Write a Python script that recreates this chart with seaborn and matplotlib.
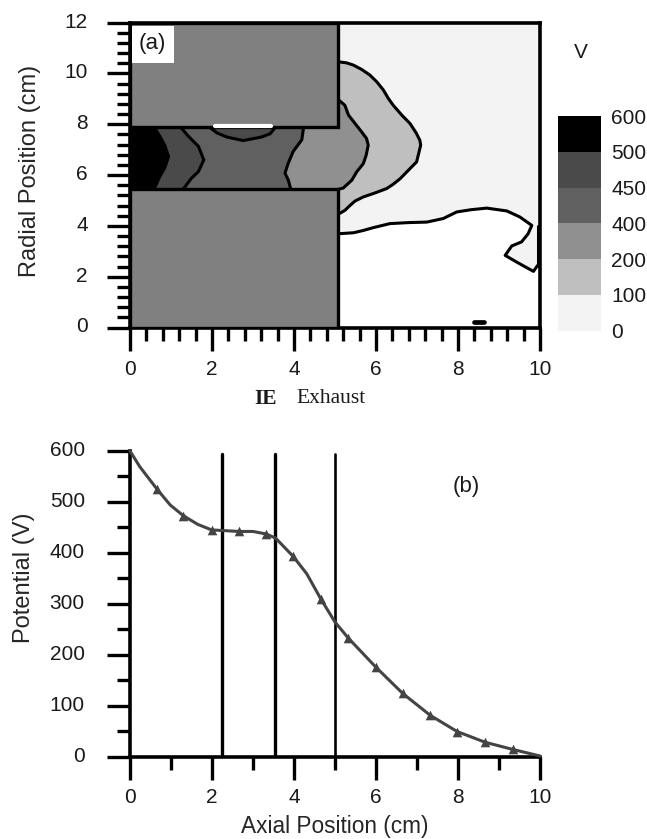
import matplotlib
matplotlib.use("Agg")
import matplotlib.pyplot as plt
from matplotlib.colors import ListedColormap, BoundaryNorm
from matplotlib.cm import ScalarMappable
from matplotlib.transforms import ScaledTranslation
import seaborn as sns

# contour boundaries of panel (a) (x, r in cm)
x_500 = [0.61, 0.76, 0.88, 0.98, 0.88, 0.76, 0.63]
r_500 = [7.95, 7.56, 7.2, 6.73, 6.25, 5.92, 5.45]
x_450 = [1.2, 1.43, 1.67, 1.8, 1.67, 1.5, 1.3]
r_450 = [7.95, 7.52, 7.13, 6.6, 6.14, 5.88, 5.45]
x_400 = [4.24, 4.19, 3.98, 3.86, 3.78, 3.86, 3.92]
r_400 = [7.95, 7.39, 6.93, 6.47, 6.08, 5.81, 5.45]
x_lens = [1.89, 2.12, 2.36, 2.76, 3.21, 3.42, 3.58]
r_lens = [7.95, 7.66, 7.5, 7.36, 7.5, 7.63, 7.95]
x_200 = [5.08, 5.24, 5.33, 5.49, 5.65, 5.77, 5.81, 5.76, 5.69, 5.53, 5.41, 5.2, 5.08]
r_200 = [8.97, 8.75, 8.36, 8.03, 7.7, 7.44, 7.18, 6.78, 6.45, 6.13, 5.8, 5.49, 5.44]
x_100 = [5.08, 5.28, 5.45, 5.65, 5.85, 6.02, 6.18, 6.3, 6.42, 6.63, 6.83, 6.98, 7.07, 7.09, 7.03, 6.99,
         6.79, 6.59, 6.42, 6.26, 5.98, 5.69, 5.49, 5.37, 5.24, 5.08]
r_100 = [10.46, 10.42, 10.33, 10.16, 9.94, 9.67, 9.35, 9.02, 8.75, 8.36, 8.03, 7.66, 7.37, 7.18, 6.78, 6.52,
         6.19, 5.86, 5.64, 5.47, 5.3, 5.14, 4.98, 4.81, 4.61, 4.46]
x_0 = [5.08, 5.45, 5.69, 5.93, 6.34, 6.79, 7.24, 7.64, 7.97, 8.33, 8.7, 9.19, 9.51, 9.8, 9.71, 9.55, 9.31, 9.15,
       9.47, 9.84, 9.94]
r_0 = [3.69, 3.73, 3.82, 3.93, 4.09, 4.13, 4.15, 4.29, 4.55, 4.64, 4.7, 4.59, 4.35, 4.02, 3.69, 3.37, 3.21, 2.84,
       2.54, 2.21, 2.44]
x_edge = [9.94, 9.94]
r_edge = [2.44, 3.98]
x_blob = [8.4, 8.63]
r_blob = [0.2, 0.2]
x_slit = [2.07, 3.44]
r_slit = [7.93, 7.93]

# thruster geometry
x_exit = 5.08
x_overlap = 5.18
r_low = 5.47
r_high = 7.9

# color scale
levels = [0, 100, 200, 400, 450, 500, 600]
grays = ["#f3f3f3", "#bfbfbf", "#909090", "#606060", "#4a4a4a", "#000000"]

# panel (b)
axial = [0, 0.24, 0.65, 0.98, 1.3, 1.65, 1.99, 2.66, 3.0, 3.32, 3.55, 3.98, 4.31, 4.65, 5.0, 5.32,
         5.99, 6.65, 7.32, 7.98, 8.66, 9.33, 10]
potential = [600, 569, 526, 494, 473, 456, 445, 442, 442, 437, 429, 393, 359, 310, 264, 233,
             176, 124, 81, 49, 28, 14, 1]
axial_marks = [0.65, 1.3, 1.99, 2.66, 3.32, 3.98, 4.65, 5.32, 5.99, 6.65, 7.32, 7.98, 8.66, 9.33]
potential_marks = [526, 473, 445, 442, 437, 393, 310, 233, 176, 124, 81, 49, 28, 14]
electrodes = [2.24, 3.54, 5.0]
electrode_lw = [2.4, 2.4, 1.9]
electrode_top = 594

sns.set_theme(style="ticks")
plt.rcParams["font.family"] = ["Liberation Sans", "DejaVu Sans"]
plt.rcParams["text.color"] = "#1a1a1a"

W, H = 647, 839
LW = 2.2
FS = 15


def px_axes(fig, left, top, right, bottom):
    return fig.add_axes([left / W, 1 - bottom / H, (right - left) / W, (bottom - top) / H])


def contour(ax, x, y, lw=LW):
    sns.lineplot(x=x, y=y, sort=False, estimator=None, color="black", linewidth=lw, ax=ax, zorder=4,
                 solid_capstyle="round")


def style_ticks(ax, xpad, ypad):
    ax.tick_params(which="major", length=16.5, width=2.4, color="black", labelsize=FS, labelcolor="#1a1a1a")
    ax.tick_params(which="minor", length=9.2, width=2.4, color="black")
    ax.tick_params(axis="x", which="major", pad=xpad)
    ax.tick_params(axis="y", which="major", pad=ypad)
    for s in ax.spines.values():
        s.set_linewidth(2.6)
        s.set_color("black")
    # y labels sit slightly above their ticks
    shift = ScaledTranslation(0, 2.5 / 100, fig.dpi_scale_trans)
    for label in ax.get_yticklabels():
        label.set_transform(label.get_transform() + shift)


fig = plt.figure(figsize=(6.47, 8.39), dpi=100)

# panel (a)
ax = px_axes(fig, 130, 22.7, 540, 327.5)
ax.set_xlim(0, 10)
ax.set_ylim(0, 12)
ax.set_facecolor(grays[0])

ax.fill(x_0 + [10, 10, x_exit], r_0 + [2.44, 0, 0], color="white", lw=0, zorder=1)
ax.fill(x_100, r_100, color=grays[1], lw=0, zorder=1.2)
ax.fill(x_200, r_200, color=grays[2], lw=0, zorder=1.4)
ax.fill([0, x_overlap, x_overlap, 0], [r_low, r_low, r_high, r_high], color=grays[2], lw=0, zorder=1.4)
ax.fill(x_400 + [0, 0], r_400 + [r_low, r_high], color=grays[3], lw=0, zorder=1.6)
ax.fill(x_450 + [0, 0], r_450 + [r_low, r_high], color=grays[4], lw=0, zorder=1.8)
ax.fill(x_lens, r_lens, color=grays[4], lw=0, zorder=1.8)
ax.fill(x_500 + [0, 0], r_500 + [r_low, r_high], color=grays[5], lw=0, zorder=2)

for cx, cr in [(x_450, r_450), (x_400, r_400), (x_lens, r_lens), (x_200, r_200),
               (x_100, r_100), (x_0, r_0), (x_edge, r_edge)]:
    contour(ax, cx, cr)
contour(ax, x_blob, r_blob, lw=3.4)

# electrode blocks drawn over the contour ends
for r0, r1 in [(r_high, 12), (0, r_low)]:
    ax.fill([0, x_exit, x_exit, 0], [r0, r0, r1, r1], facecolor="#808080", edgecolor="black", lw=2.4, zorder=5)
sns.lineplot(x=x_slit, y=r_slit, color="white", linewidth=3, ax=ax, zorder=6)

ax.fill([0.05, 1.07, 1.07, 0.05], [10.42, 10.42, 11.87, 11.87], color="white", lw=0, zorder=7)
ax.text(0.54, 11.2, "(a)", fontsize=16, ha="center", va="center", zorder=8)

ax.set_xticks([0, 2, 4, 6, 8, 10])
ax.set_xticks([v * 0.4 for v in range(26)], minor=True)
ax.set_yticks([0, 2, 4, 6, 8, 10, 12])
ax.set_yticks([v * 0.4 for v in range(31)], minor=True)
style_ticks(ax, 7, 14)
ax.set_ylabel("Radial Position (cm)", fontsize=17)
ax.yaxis.set_label_coords(-0.217, 0.514)

fig.text(266 / W, 1 - 399 / H, "IE", fontsize=15.5, family="Liberation Serif", weight="bold", ha="center", va="center")
fig.text(331 / W, 1 - 398 / H, "Exhaust", fontsize=15.5, family="Liberation Serif", ha="center", va="center")
fig.text(581 / W, 1 - 53 / H, "V", fontsize=FS, ha="center", va="center")

# color scale
cax = px_axes(fig, 557.7, 116, 601, 330.7)
norm = BoundaryNorm(levels, len(grays))
cbar = fig.colorbar(ScalarMappable(norm=norm, cmap=ListedColormap(grays)), cax=cax, spacing="uniform", ticks=levels)
cbar.outline.set_visible(False)
cbar.ax.tick_params(length=0, pad=7.5, labelsize=FS, labelcolor="#1a1a1a")

# panel (b)
ax2 = px_axes(fig, 130, 451, 540, 756.5)
ax2.set_xlim(0, 10)
ax2.set_ylim(0, 600)
for xe, lw in zip(electrodes, electrode_lw):
    sns.lineplot(x=[xe, xe], y=[0, electrode_top], sort=False, estimator=None, color="black", linewidth=lw,
                 ax=ax2, zorder=3)
sns.lineplot(x=axial, y=potential, sort=False, estimator=None, color="#444444", linewidth=2.2, ax=ax2, zorder=4,
             clip_on=False)
sns.scatterplot(x=axial_marks, y=potential_marks, marker="^", s=48, color="#444444", linewidth=0, ax=ax2, zorder=5)
ax2.text(8.2, 530, "(b)", fontsize=16, ha="center", va="center")

ax2.set_xticks([0, 2, 4, 6, 8, 10])
ax2.set_xticks(range(0, 11), minor=True)
ax2.set_yticks(range(0, 601, 100))
ax2.set_yticks(range(0, 601, 50), minor=True)
sns.despine(ax=ax2)
style_ticks(ax2, 6, 16)
ax2.set_xlabel("Axial Position (cm)", fontsize=16.3)
ax2.xaxis.set_label_coords(0.5, -0.19)
ax2.set_ylabel("Potential (V)", fontsize=17)
ax2.yaxis.set_label_coords(-0.232, 0.584)

plt.savefig("out.png", dpi=100)
